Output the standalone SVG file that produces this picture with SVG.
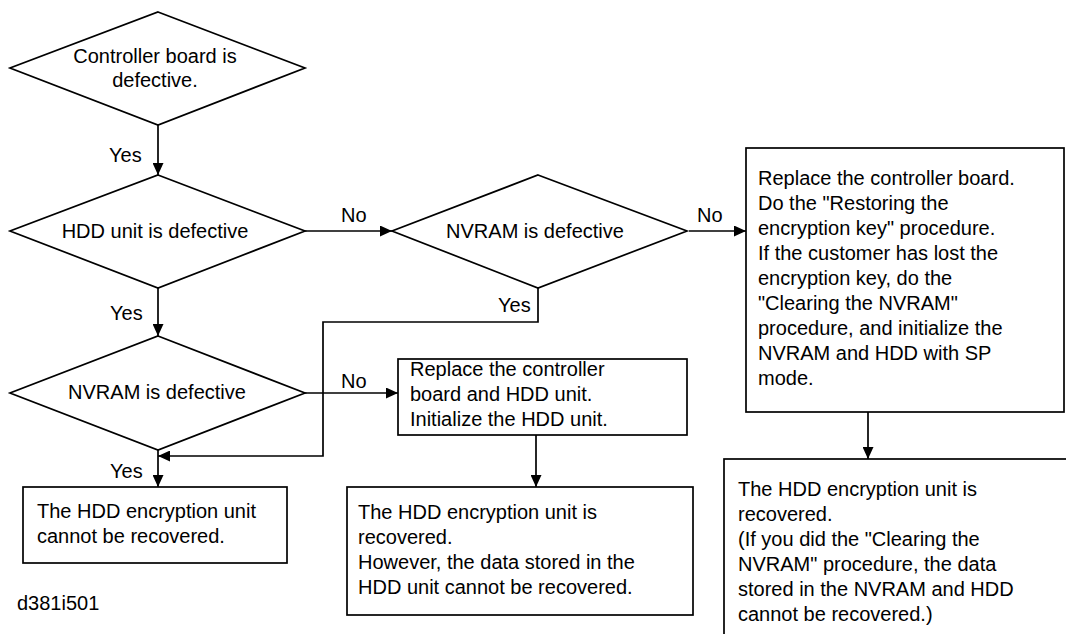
<svg xmlns="http://www.w3.org/2000/svg" width="1066" height="634" viewBox="0 0 1066 634">
<defs>
<style>
.s{fill:#fff;stroke:#000;stroke-width:1.7}
.c{fill:none;stroke:#000;stroke-width:1.7}
text{font-family:"Liberation Sans",Arial,sans-serif;font-size:20px;fill:#000}
.m{text-anchor:middle}
</style>
<marker id="ah" markerUnits="userSpaceOnUse" markerWidth="13" markerHeight="11" refX="12" refY="5.5" orient="auto">
<path d="M0,0 L12,5.5 L0,11 Z" fill="#000"/>
</marker>
</defs>
<rect width="1066" height="634" fill="#fff"/>
<g id="connectors">
<path class="c" d="M158,125 V175" marker-end="url(#ah)"/>
<path class="c" d="M305,231 H392" marker-end="url(#ah)"/>
<path class="c" d="M158,288 V336" marker-end="url(#ah)"/>
<path class="c" d="M689,231 H746" marker-end="url(#ah)"/>
<path class="c" d="M305,393 H398" marker-end="url(#ah)"/>
<path class="c" d="M538,288 V322 H323 V456 H158" marker-end="url(#ah)"/>
<path class="c" d="M158,450 V487" marker-end="url(#ah)"/>
<path class="c" d="M536,435 V487" marker-end="url(#ah)"/>
<path class="c" d="M868,412 V459" marker-end="url(#ah)"/>
<text x="109" y="162">Yes</text>
<text x="341" y="222">No</text>
<text x="110" y="320">Yes</text>
<text x="697" y="222">No</text>
<text x="498" y="312">Yes</text>
<text x="341" y="388">No</text>
<text x="110" y="478">Yes</text>
</g>
<g id="d1">
<polygon class="s" points="158,12 305,68 158,125 10,68"/>
<text class="m" x="155" y="63">Controller board is</text>
<text class="m" x="155" y="87">defective.</text>
</g>
<g id="d2">
<polygon class="s" points="158,175 305,231 158,288 10,231"/>
<text class="m" x="155" y="238">HDD unit is defective</text>
</g>
<g id="d3">
<polygon class="s" points="538,175 687,231 538,288 392,231"/>
<text class="m" x="535" y="238">NVRAM is defective</text>
</g>
<g id="d4">
<polygon class="s" points="158,336 305,393 158,450 10,393"/>
<text class="m" x="157" y="399">NVRAM is defective</text>
</g>
<g id="boxA">
<rect class="s" x="398" y="359" width="289" height="76"/>
<text x="410" y="376">Replace the controller</text>
<text x="410" y="401">board and HDD unit.</text>
<text x="410" y="426">Initialize the HDD unit.</text>
</g>
<g id="boxB">
<rect class="s" x="746" y="148" width="318" height="264"/>
<text x="758" y="185">Replace the controller board.</text>
<text x="758" y="210">Do the "Restoring the</text>
<text x="758" y="235">encryption key" procedure.</text>
<text x="758" y="260">If the customer has lost the</text>
<text x="758" y="285">encryption key, do the</text>
<text x="758" y="310">"Clearing the NVRAM"</text>
<text x="758" y="335">procedure, and initialize the</text>
<text x="758" y="360">NVRAM and HDD with SP</text>
<text x="758" y="385">mode.</text>
</g>
<g id="boxC">
<rect class="s" x="23" y="487" width="264" height="76"/>
<text x="37" y="518">The HDD encryption unit</text>
<text x="37" y="543">cannot be recovered.</text>
</g>
<g id="boxD">
<rect class="s" x="347" y="487" width="346" height="128"/>
<text x="358" y="519">The HDD encryption unit is</text>
<text x="358" y="544">recovered.</text>
<text x="358" y="569">However, the data stored in the</text>
<text x="358" y="594">HDD unit cannot be recovered.</text>
</g>
<g id="boxE">
<rect class="s" x="724" y="459" width="360" height="200"/>
<text x="738" y="496">The HDD encryption unit is</text>
<text x="738" y="521">recovered.</text>
<text x="738" y="546">(If you did the "Clearing the</text>
<text x="738" y="571">NVRAM" procedure, the data</text>
<text x="738" y="596">stored in the NVRAM and HDD</text>
<text x="738" y="621">cannot be recovered.)</text>
</g>
<text id="figid" x="17" y="610">d381i501</text>
</svg>
